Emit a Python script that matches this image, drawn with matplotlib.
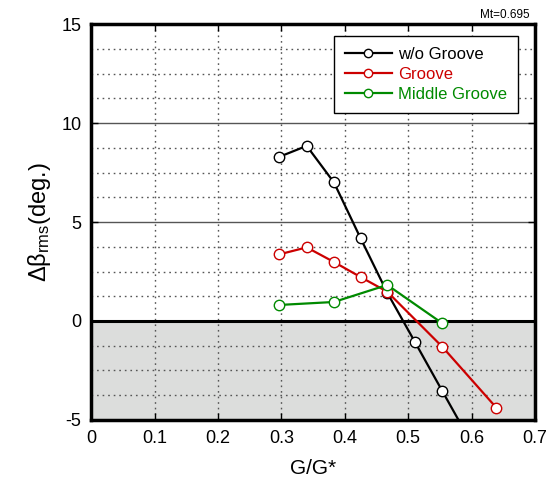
"""
Rms flow angle fluctuation vs. gap ratio for three groove configurations.
"""
import numpy as np
import matplotlib.pyplot as plt

plt.rcParams['font.family'] = ['Liberation Sans', 'DejaVu Sans']
plt.rcParams['mathtext.fontset'] = 'custom'
plt.rcParams['mathtext.rm'] = 'Liberation Sans'
plt.rcParams['mathtext.it'] = 'Liberation Sans'
plt.rcParams['axes.unicode_minus'] = False

# G/G* and delta beta rms (deg.)
x_nogroove = [0.297, 0.340, 0.383, 0.425, 0.467, 0.511, 0.554, 0.637]
y_nogroove = [8.30, 8.85, 7.00, 4.18, 1.43, -1.08, -3.55, -8.3]

x_groove = [0.297, 0.340, 0.383, 0.425, 0.467, 0.554, 0.639]
y_groove = [3.37, 3.72, 2.98, 2.22, 1.48, -1.31, -4.38]

x_middle = [0.297, 0.383, 0.467, 0.554]
y_middle = [0.81, 0.96, 1.82, -0.12]

labels = ['w/o Groove', 'Groove', 'Middle Groove']
colors = ['black', '#cc0000', '#008a00']


def main():
    fig = plt.figure(figsize=(5.59, 4.94), dpi=100)
    ax = fig.add_axes([0.163, 0.150, 0.794, 0.801])

    ax.axhspan(-5, 0, color='#dcdddc', zorder=0)

    # dotted minor grid, solid lines at the major y values
    for xv in np.arange(0.1, 0.7, 0.1):
        ax.axvline(xv, color='#555555', lw=1.0, ls=(0, (1.2, 2.8)), zorder=1)
    for yv in np.arange(-5, 15, 1.25):
        if yv % 5 != 0:
            ax.axhline(yv, color='#555555', lw=1.0, ls=(0, (1.2, 2.8)), zorder=1)
    for yv in (5, 10):
        ax.axhline(yv, color='#555555', lw=1.0, zorder=1)
    ax.axhline(0, color='black', lw=2.2, zorder=1)

    series = [(x_nogroove, y_nogroove), (x_groove, y_groove), (x_middle, y_middle)]
    for (xs, ys), lab, c in zip(series, labels, colors):
        ax.plot(xs, ys, color=c, lw=1.6, marker='o', ms=7.5, mfc='white',
                mec=c, mew=1.0, label=lab, zorder=3)

    ax.set_xlim(0, 0.7)
    ax.set_ylim(-5, 15)
    ax.set_xticks(np.arange(0, 0.71, 0.1))
    ax.set_xticklabels(['0', '0.1', '0.2', '0.3', '0.4', '0.5', '0.6', '0.7'])
    ax.set_yticks([-5, 0, 5, 10, 15])
    ax.tick_params(direction='in', length=5, width=1.0, labelsize=13,
                   top=True, right=True, pad=7)
    for s in ax.spines.values():
        s.set_linewidth(2.5)
        s.set_zorder(5)

    ax.set_xlabel('G/G*', fontsize=15, labelpad=9)
    ax.set_ylabel(r'$\Delta\beta_{\mathrm{rms}}$(deg.)', fontsize=17, labelpad=6)

    leg = ax.legend(loc='upper right', bbox_to_anchor=(0.962, 0.970), fontsize=12,
                    fancybox=False, framealpha=1, edgecolor='black',
                    handlelength=2.8, handletextpad=0.4, borderpad=0.65,
                    borderaxespad=0, labelspacing=0.3, markerscale=0.8)
    leg.get_frame().set_linewidth(1.0)
    for txt, c in zip(leg.get_texts(), colors):
        txt.set_color(c)

    fig.text(0.948, 0.957, 'Mt=0.695', fontsize=8.5, ha='right', va='bottom')

    fig.savefig('out.png', dpi=100)


if __name__ == "__main__":
    main()
